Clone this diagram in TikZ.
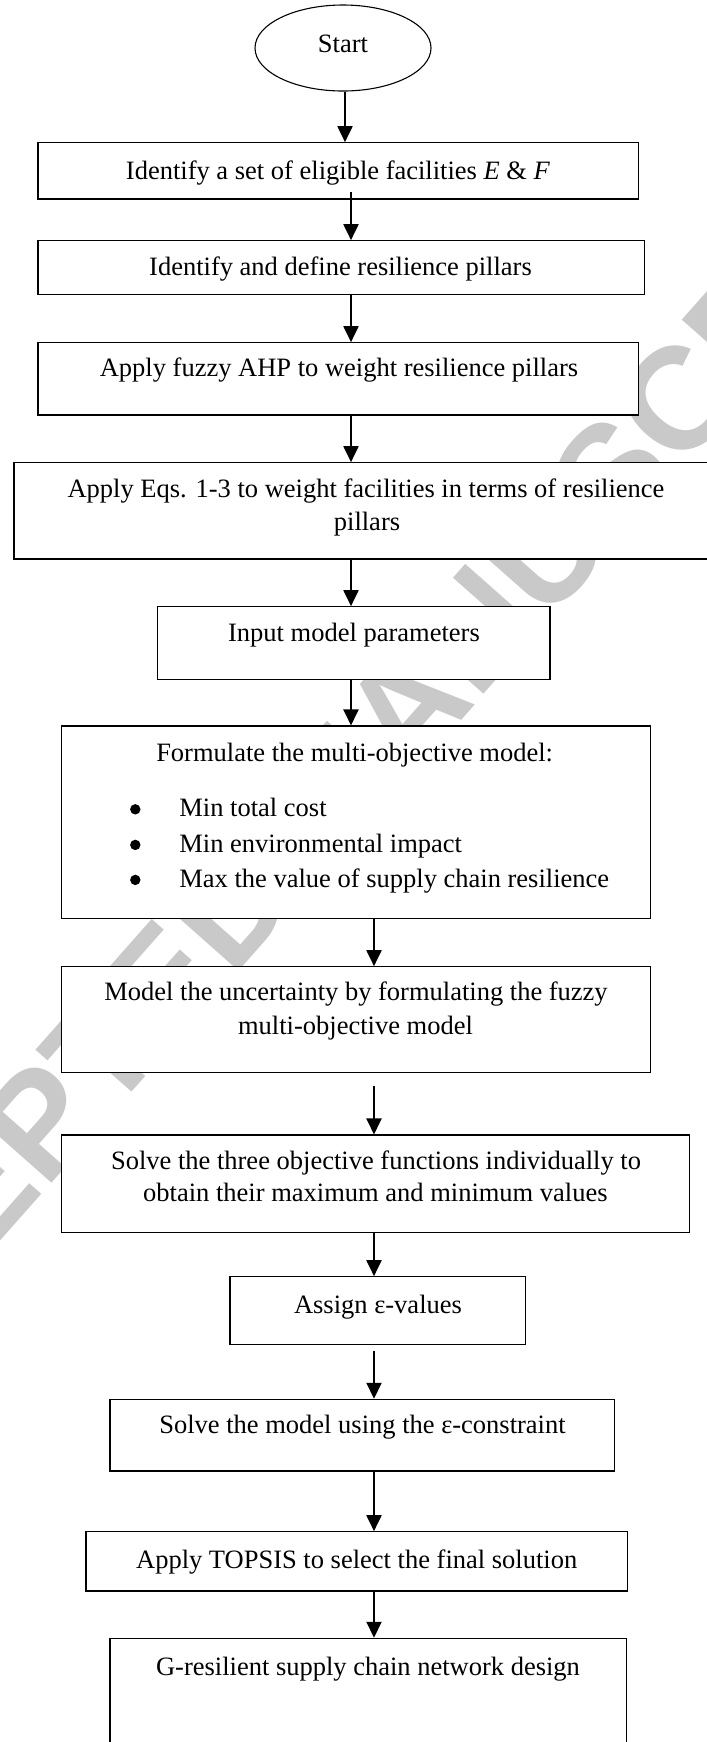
\documentclass[tikz,border=0pt]{standalone}
\usepackage{fontspec}
\setmainfont{Liberation Serif}
\newfontfamily\wmfont{Liberation Sans}
\usetikzlibrary{arrows.meta,shapes.geometric,fit,calc}
\begin{document}
\begin{tikzpicture}[x=0.5pt,y=-0.5pt,
  box/.style={draw=black, fill=white, line width=0.55pt, inner sep=0pt, rectangle},
  oval/.style={draw=black, fill=white, line width=0.55pt, ellipse, inner sep=0pt, minimum width=88pt, minimum height=43pt},
  txt/.style={inner sep=0pt, anchor=base, font=\fontsize{13.25pt}{16pt}\selectfont},
  ltxt/.style={txt, anchor=base west},
  dot/.style={circle, fill=black, inner sep=0pt, minimum size=5.2pt},
  arr/.style={line width=1pt, -{Triangle[length=8pt,width=7.5pt]}},
  wmark/.style={inner sep=0pt, rotate=48.5, text=black!21, font=\wmfont\bfseries\fontsize{72.5pt}{80pt}\selectfont}]
\useasboundingbox (0,0) rectangle (707,1742);
\clip (0,0) rectangle (707,1742);
\fill[white] (0,0) rectangle (707,1742);
% watermark
\node[wmark] (wm) at (334,789) {ACCEPTED MANUSCRIPT};
% columns for connectors
\coordinate (c1) at (345,0);
\coordinate (c2) at (351,0);
\coordinate (c3) at (374,0);
% start
\node[oval] (s) at (343,48) {};
\node[txt] (ts) at (343,52) {Start};
% boxes
\node[box, fit={(38,142.7) (638.4,199)}] (b1) {};
\node[txt] (t1) at (338,179.3) {Identify a set of eligible facilities \textit{E} \& \textit{F}};
\node[box, fit={(38,240.7) (644.7,294.7)}] (b2) {};
\node[txt] (t2) at (340.5,275) {Identify and define resilience pillars};
\node[box, fit={(38,342.7) (638.4,415)}] (b3) {};
\node[txt] (t3) at (339,376.7) {Apply fuzzy AHP to weight resilience pillars};
\node[box, fit={(14,462.7) (720,559)}] (b4) {};
\node[txt] (t4a) at (366,497.3) {Apply Eqs. 1-3 to weight facilities in terms of resilience};
\node[txt] (t4b) at (367,530.7) {pillars};
\node[box, fit={(157.8,606.7) (550,679.3)}] (b5) {};
\node[txt] (t5) at (354,641.7) {Input model parameters};
\node[box, fit={(61.8,726) (650.6,918.5)}] (b6) {};
\node[txt] (t6) at (354.6,761.7) {Formulate the multi-objective model:};
\node[dot] (d1) at (135.3,809.3) {};
\node[ltxt] (l1) at (179,816.7) {Min total cost};
\node[dot] (d2) at (135.3,844.9) {};
\node[ltxt] (l2) at (179,852.3) {Min environmental impact};
\node[dot] (d3) at (135.3,879.9) {};
\node[ltxt] (l3) at (179,887.3) {Max the value of supply chain resilience};
\node[box, fit={(61.8,966.7) (650.6,1072.7)}] (b7) {};
\node[txt] (t7a) at (356,1000.7) {Model the uncertainty by formulating the fuzzy};
\node[txt] (t7b) at (355.5,1034) {multi-objective model};
\node[box, fit={(61.8,1135) (689.8,1232.7)}] (b8) {};
\node[txt] (t8a) at (376,1169.3) {Solve the three objective functions individually to};
\node[txt] (t8b) at (375.4,1201.7) {obtain their maximum and minimum values};
\node[box, fit={(230,1276.7) (525.3,1344.3)}] (b9) {};
\node[txt] (t9) at (378,1313.3) {Assign ε-values};
\node[box, fit={(110,1399.3) (614.5,1471)}] (b10) {};
\node[txt] (t10) at (362.5,1433.3) {Solve the model using the ε-constraint};
\node[box, fit={(86,1531.7) (627.6,1591)}] (b11) {};
\node[txt] (t11) at (356.7,1568.3) {Apply TOPSIS to select the final solution};
\node[box, fit={(110,1638.3) (626.7,1760)}] (b12) {};
\node[txt] (t12) at (368,1675) {G-resilient supply chain network design};
% connectors
\draw[arr] (s.south -| c1) -- (b1.north -| c1);
\draw[arr] ($(b1.south -| c2)+(0,-7.3)$) -- (b2.north -| c2);
\draw[arr] (b2.south -| c2) -- (b3.north -| c2);
\draw[arr] (b3.south -| c2) -- (b4.north -| c2);
\draw[arr] (b4.south -| c2) -- (b5.north -| c2);
\draw[arr] (b5.south -| c2) -- (b6.north -| c2);
\draw[arr] (b6.south -| c3) -- (b7.north -| c3);
\draw[arr] ($(b7.south -| c3)+(0,12.3)$) -- (b8.north -| c3);
\draw[arr] (b8.south -| c3) -- (b9.north -| c3);
\draw[arr] ($(b9.south -| c3)+(0,6.4)$) -- (b10.north -| c3);
\draw[arr] (b10.south -| c3) -- (b11.north -| c3);
\draw[arr] (b11.south -| c3) -- (b12.north -| c3);
\end{tikzpicture}
\end{document}
